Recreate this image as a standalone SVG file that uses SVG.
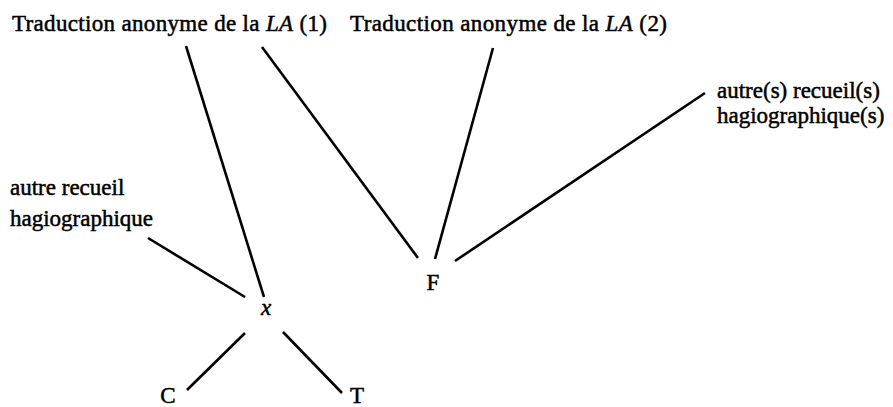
<svg xmlns="http://www.w3.org/2000/svg" width="893" height="407" viewBox="0 0 893 407">
<style>
text{font-family:"Liberation Serif","Times New Roman",serif;font-size:23px;fill:#000;stroke:#000;stroke-width:0.5}
.it{font-style:italic}
.edge{stroke:#000;stroke-width:2.6;stroke-linecap:butt;fill:none}
</style>
<rect width="893" height="407" fill="#fff"/>
<g id="connectors">
<line class="edge" x1="186" y1="46" x2="264" y2="297"/>
<line class="edge" x1="262" y1="47" x2="418" y2="258"/>
<line class="edge" x1="493" y1="48" x2="435" y2="259"/>
<line class="edge" x1="705" y1="93" x2="455" y2="261"/>
<line class="edge" x1="148" y1="238" x2="245" y2="297"/>
<line class="edge" x1="245" y1="333" x2="187" y2="390"/>
<line class="edge" x1="283" y1="332" x2="342" y2="393"/>
</g>
<g id="LA1"><text x="12" y="31" textLength="315" lengthAdjust="spacing">Traduction anonyme de la <tspan class="it">LA</tspan> (1)</text></g>
<g id="LA2"><text x="350" y="31" textLength="317" lengthAdjust="spacing">Traduction anonyme de la <tspan class="it">LA</tspan> (2)</text></g>
<g id="autres"><text x="717" y="98">autre(s) recueil(s)</text><text x="717" y="123">hagiographique(s)</text></g>
<g id="autre"><text x="10" y="195">autre recueil</text><text x="10" y="226">hagiographique</text></g>
<g id="F"><text x="433" y="290" text-anchor="middle">F</text></g>
<g id="x"><text class="it" x="266" y="315" text-anchor="middle">x</text></g>
<g id="C"><text x="168" y="403" text-anchor="middle">C</text></g>
<g id="T"><text x="357" y="403" text-anchor="middle">T</text></g>
</svg>
